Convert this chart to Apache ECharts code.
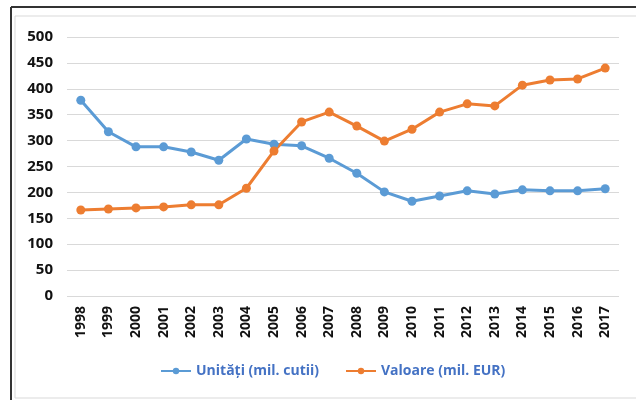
<!DOCTYPE html>
<html>
<head>
<meta charset="utf-8">
<script src="https://cdn.jsdelivr.net/npm/echarts@6/dist/echarts.min.js"></script>
<style>
html,body{margin:0;padding:0;background:#fff;}
#chart{width:636px;height:400px;}
</style>
</head>
<body>
<div id="chart"></div>
<script>
var years = ['1998','1999','2000','2001','2002','2003','2004','2005','2006','2007',
             '2008','2009','2010','2011','2012','2013','2014','2015','2016','2017'];
var unitati = [378,317,288,288,278,262,303,293,290,266,237,201,183,193,203,197,205,203,203,207];
var valoare = [166,168,170,172,176,176,208,280,336,355,328,299,322,355,371,367,407,417,419,440];
var yTicks = {min: 0, max: 500, interval: 50};

var chart = echarts.init(document.getElementById('chart'));
chart.setOption({
  animation: false,
  graphic: [
    {type: 'line', shape: {x1: 11, y1: 7, x2: 636, y2: 7}, style: {stroke: '#333', lineWidth: 2}},
    {type: 'line', shape: {x1: 11, y1: 7, x2: 11, y2: 400}, style: {stroke: '#333', lineWidth: 2}},
    {type: 'rect', shape: {x: 15, y: 16, width: 640, height: 382}, style: {fill: 'none', stroke: '#d9d9d9', lineWidth: 1}}
  ],
  grid: {left: 67, right: 17, top: 37, bottom: 104},
  legend: {
    bottom: 17,
    left: 155,
    itemGap: 26,
    itemWidth: 30,
    itemHeight: 8,
    textStyle: {color: '#4472c4', fontWeight: 'bold', fontSize: 14, fontFamily: 'Open Sans'}
  },
  xAxis: {
    type: 'category',
    data: years,
    axisLine: {show: false},
    axisTick: {show: false},
    axisLabel: {rotate: 90, color: '#111', fontWeight: 'bold', fontSize: 14, fontFamily: 'Open Sans', margin: 10}
  },
  yAxis: {
    type: 'value',
    min: yTicks.min,
    max: yTicks.max,
    interval: yTicks.interval,
    axisLine: {show: false},
    axisTick: {show: false},
    axisLabel: {color: '#111', fontWeight: 'bold', fontSize: 15, fontFamily: 'Open Sans', margin: 14},
    splitLine: {lineStyle: {color: '#d9d9d9', width: 1}}
  },
  series: [
    {
      name: 'Unități (mil. cutii)',
      type: 'line',
      data: unitati,
      symbol: 'circle',
      symbolSize: 9,
      color: '#5b9bd5',
      lineStyle: {width: 3}
    },
    {
      name: 'Valoare (mil. EUR)',
      type: 'line',
      data: valoare,
      symbol: 'circle',
      symbolSize: 9,
      color: '#ed7d31',
      lineStyle: {width: 3}
    }
  ]
});
</script>
</body>
</html>
